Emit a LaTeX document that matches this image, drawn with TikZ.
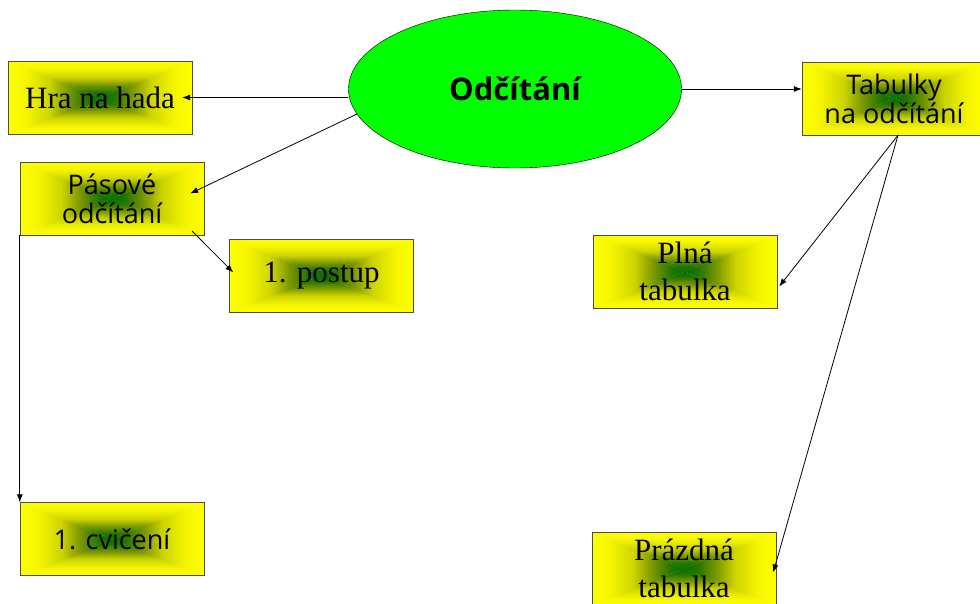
\documentclass[tikz,border=0pt]{standalone}
\usepackage{fontspec}
\setmainfont{Liberation Serif}
\setsansfont{Open Sans}
\usetikzlibrary{shapes.geometric,arrows.meta}
\definecolor{boxgreen}{RGB}{0,110,0}
\definecolor{boxmoss}{RGB}{35,118,0}
\definecolor{boxolive}{RGB}{125,152,0}
\definecolor{boxlime}{RGB}{205,212,0}
\definecolor{boxpale}{RGB}{245,245,0}
\pgfdeclareverticalshading{fadenorth}{100bp}{color(0bp)=(boxgreen); color(25bp)=(boxgreen); color(32.5bp)=(boxmoss); color(42.5bp)=(boxolive); color(52.5bp)=(boxlime); color(65bp)=(boxpale); color(75bp)=(yellow); color(100bp)=(yellow)}
\pgfdeclareverticalshading{fadesouth}{100bp}{color(0bp)=(yellow); color(25bp)=(yellow); color(35bp)=(boxpale); color(47.5bp)=(boxlime); color(57.5bp)=(boxolive); color(67.5bp)=(boxmoss); color(75bp)=(boxgreen); color(100bp)=(boxgreen)}
\pgfdeclarehorizontalshading{fadewest}{100bp}{color(0bp)=(yellow); color(25bp)=(yellow); color(35bp)=(boxpale); color(47.5bp)=(boxlime); color(57.5bp)=(boxolive); color(67.5bp)=(boxmoss); color(75bp)=(boxgreen); color(100bp)=(boxgreen)}
\pgfdeclarehorizontalshading{fadeeast}{100bp}{color(0bp)=(boxgreen); color(25bp)=(boxgreen); color(32.5bp)=(boxmoss); color(42.5bp)=(boxolive); color(52.5bp)=(boxlime); color(65bp)=(boxpale); color(75bp)=(yellow); color(100bp)=(yellow)}
\tikzset{
    tile/.style={draw=gray!60!black, fill=yellow, minimum width=184pt, minimum height=73pt, inner sep=0pt, align=center,
        path picture={
            \path (path picture bounding box.center);
            \shade[shading=fadewest] (path picture bounding box.north west) -- (path picture bounding box.south west) -- (path picture bounding box.center) -- cycle;
            \shade[shading=fadenorth] (path picture bounding box.north west) -- (path picture bounding box.north east) -- (path picture bounding box.center) -- cycle;
            \shade[shading=fadesouth] (path picture bounding box.south west) -- (path picture bounding box.south east) -- (path picture bounding box.center) -- cycle;
            \shade[shading=fadeeast] (path picture bounding box.south east) -- (path picture bounding box.north east) -- (path picture bounding box.center) -- cycle;
        }},
    serif/.style={font=\fontsize{31}{37}\selectfont},
    sans/.style={font=\sffamily\fontsize{27}{29}\selectfont},
    link/.style={-{Latex[length=8pt,width=6pt]}, line width=0.8pt}
}
\begin{document}
\begin{tikzpicture}[x=1pt,y=-1pt]
    \useasboundingbox (0,0) rectangle (980,603);
    \node[ellipse, draw, fill=green, minimum width=333pt, minimum height=158pt, inner sep=0pt, font=\sffamily\bfseries\fontsize{31}{35}\selectfont] (oval) at (515,89) {Odčítání};
    \node[tile, serif] (hra) at (100,97.5) {Hra na hada};
    \node[tile, sans] (pas) at (112,198.5) {Pásové\\odčítání};
    \node[tile, serif] (postup) at (321.5,275.5) {1. postup};
    \node[tile, sans] (cvic) at (112,539) {1. cvičení};
    \node[tile, sans] (tab) at (894,98.5) {Tabulky\\na odčítání};
    \node[tile, serif] (plna) at (685,271.5) {Plná\\tabulka};
    \node[tile, serif] (prazd) at (684,568.5) {Prázdná\\tabulka};
    \draw[link] (oval.west |- hra) -- ([xshift=-10pt]hra.east);
    \draw[link] (oval.189) -- ([shift={(-14pt,5pt)}]pas.east);
    \draw[link] ([shift={(-12pt,4pt)}]pas.south east) -- ([shift={(4pt,3pt)}]postup.west);
    \draw[link] (pas.south west) -- (cvic.north west);
    \draw[link] (oval.east) -- (oval.east -| tab.west);
    \draw[link] ([xshift=4pt]tab.south) -- ([shift={(2pt,-15pt)}]plna.east);
    \draw[link] ([xshift=4pt]tab.south) -- ([shift={(-3pt,-4pt)}]prazd.east);
    \end{tikzpicture}
\end{document}
